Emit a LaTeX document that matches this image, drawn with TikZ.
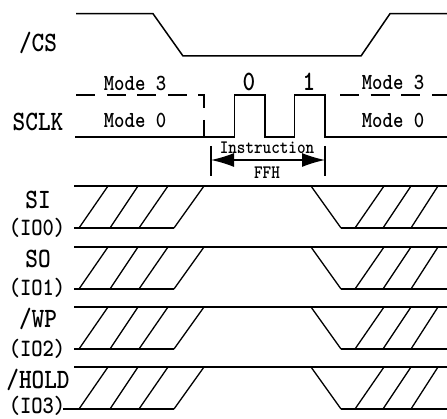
\documentclass[tikz,border=0pt]{standalone}
\usepackage{graphicx}
\usetikzlibrary{arrows.meta}
\newcommand{\narrowtxt}[1]{\scalebox{.86}[1]{#1}}
\tikzset{
  wave/.style={line width=1.5pt,line join=miter,line cap=butt},
  busline/.style={line width=1.4pt,line cap=butt},
  hatch/.style={line width=1.3pt},
  modedash/.style={line width=1.5pt,dash pattern=on 19pt off 11.6pt},
  siglabel/.style={inner sep=0pt,font=\fontsize{28}{28}\selectfont\ttfamily\bfseries},
  iolabel/.style={inner sep=0pt,font=\fontsize{25}{25}\selectfont\ttfamily\bfseries},
  modelabel/.style={inner sep=0pt,font=\fontsize{23}{23}\selectfont\ttfamily\bfseries},
  smalllabel/.style={inner sep=0pt,font=\fontsize{19}{19}\selectfont\ttfamily\bfseries},
  bus/.pic={
    \draw[busline] (#1,0) -- (374,0);
    \draw[busline] (#1,42) -- (100,42);
    \draw[busline] (267,42) -- (374,42);
    \foreach \b/\t in {5/34,36/64,65/94,100/130,281/310,309/337,337/364}
      \draw[hatch] (\b,42) -- (\t,0);
    \draw[hatch] (237,0) -- (267,42);
  }
}
\begin{document}
\begin{tikzpicture}[x=1pt,y=-1pt]
\useasboundingbox (0,0) rectangle (447,419);
% /CS
\draw[wave] (76,13.7) -- (153,13.7) -- (183,56) -- (361,56) -- (390,13.7) -- (447,13.7);
% SCLK
\draw[wave] (75,137) -- (234.7,137) -- (234.7,95) -- (265,95) -- (265,137) -- (294.7,137) -- (294.7,95) -- (325,95) -- (325,137) -- (447,137);
\draw[modedash] (76,95) -- (204,95) -- (204,137);
\draw[modedash] (340,95) -- (447,95);
% Instruction span
\coordinate (spanL) at (211,160);
\coordinate (spanR) at (325,160);
\draw[line width=1.4pt] (211,146) -- (211,176);
\draw[line width=1.4pt] (325,146) -- (325,176);
\draw[line width=1.2pt,{Latex[length=23pt,width=14pt]}-{Latex[length=23pt,width=14pt]}] (spanL) -- (spanR);
% Buses
\pic at (74,186) {bus=0};
\pic at (74,247) {bus=0};
\pic at (74,307) {bus=0};
\pic at (74,367) {bus=0};
\draw[busline] (63,409) -- (74,409);
% Labels
\node[siglabel] (cs) at (38,43) {\narrowtxt{/CS}};
\node[siglabel] (sclk) at (38,122) {\narrowtxt{SCLK}};
\node[siglabel] (si) at (38,200) {\narrowtxt{SI}};
\node[iolabel] (io0) at (37,228) {\narrowtxt{(IO0)}};
\node[siglabel] (so) at (38,259) {\narrowtxt{SO}};
\node[iolabel] (io1) at (37,288) {\narrowtxt{(IO1)}};
\node[siglabel] (wp) at (38,319) {\narrowtxt{/WP}};
\node[iolabel] (io2) at (37,349) {\narrowtxt{(IO2)}};
\node[siglabel] (hold) at (38,380) {\narrowtxt{/HOLD}};
\node[iolabel] (io3) at (37,406.3) {\narrowtxt{(IO3)}};
\node[modelabel] (m3l) at (135,83) {\narrowtxt{Mode 3}};
\node[modelabel] (m0l) at (135,120) {\narrowtxt{Mode 0}};
\node[modelabel] (m3r) at (393,82) {\narrowtxt{Mode 3}};
\node[modelabel] (m0r) at (393,120) {\narrowtxt{Mode 0}};
\node[siglabel] (b0) at (249,82) {\narrowtxt{0}};
\node[siglabel] (b1) at (309,82) {\narrowtxt{1}};
\node[smalllabel] (instr) at (267,148) {\narrowtxt{Instruction}};
\node[smalllabel] (ffh) at (267,173) {\narrowtxt{FFH}};
\end{tikzpicture}
\end{document}
